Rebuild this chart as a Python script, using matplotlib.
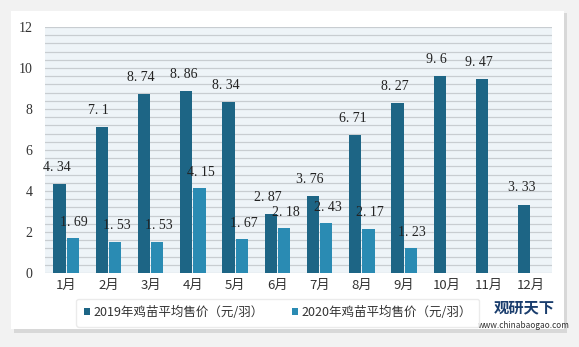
import numpy as np
import matplotlib.pyplot as plt
from matplotlib.patches import Rectangle

plt.rcParams['font.family'] = ['Noto Sans CJK SC', 'DejaVu Sans']

months = ['1月', '2月', '3月', '4月', '5月', '6月', '7月', '8月', '9月', '10月', '11月', '12月']
price_2019 = [4.34, 7.1, 8.74, 8.86, 8.34, 2.87, 3.76, 6.71, 8.27, 9.6, 9.47, 3.33]
price_2020 = [1.69, 1.53, 1.53, 4.15, 1.67, 2.18, 2.43, 2.17, 1.23, None, None, None]
label_2019 = '2019年鸡苗平均售价（元/羽）'
label_2020 = '2020年鸡苗平均售价（元/羽）'

c19 = '#1d6585'
c20 = '#2a8bb3'

fig = plt.figure(figsize=(5.79, 3.47), dpi=100)
fig.patch.set_facecolor('#f2f2f2')
# white card with shadow
fig.patches.append(Rectangle((14/579, 1-333/347), 553/579, 320/347, transform=fig.transFigure,
                             facecolor='#d8d8d8', edgecolor='none', zorder=-10))
fig.patches.append(Rectangle((11/579, 1-329/347), 553/579, 318/347, transform=fig.transFigure,
                             facecolor='white', edgecolor='none', zorder=-9))

ax = fig.add_axes([45/579, 1-273/347, 507/579, 246/347])
ax.set_facecolor('#eef4f8')
x = np.arange(len(months))
w = 0.29
for yv in np.arange(0, 12.01, 0.4):
    ax.axhline(yv, color='#c8cdd1', lw=0.9, zorder=1)

v19 = np.array(price_2019, dtype=float)
v20 = np.array([np.nan if v is None else v for v in price_2020])
ax.bar(x - w/2 - 0.01, v19, w, color=c19, zorder=3, label=label_2019)
ax.bar(x + w/2 + 0.01, np.nan_to_num(v20), w, color=c20, zorder=3, label=label_2020)

for i, v in enumerate(v19):
    ax.text(x[i] - w/2 - 0.08, v + 0.5, f'{v:g}'.replace('.', '. '), ha='center', va='bottom',
            fontsize=10, family='Liberation Serif', color='#222222', zorder=4)
for i, v in enumerate(v20):
    if not np.isnan(v):
        ax.text(x[i] + w/2 + 0.05, v + 0.45, f'{v:g}'.replace('.', '. '), ha='center', va='bottom',
                fontsize=10, family='Liberation Serif', color='#222222', zorder=4)

ax.set_xlim(-0.5, 11.5)
ax.set_ylim(0, 12)
ax.set_yticks(np.arange(0, 13, 2))
ax.set_yticklabels([str(v) for v in range(0, 13, 2)], family='Liberation Serif', fontsize=10, color='#333333')
ax.set_xticks(x)
ax.set_xticklabels(months, fontsize=9.5, color='#333333')
ax.tick_params(length=0, pad=4)
ax.tick_params(axis='y', pad=9)
for s in ax.spines.values():
    s.set_visible(False)

leg = fig.legend(loc='lower left', bbox_to_anchor=(70/579, 1-333/347), ncol=2, frameon=True,
                 fontsize=9, handlelength=0.5, handleheight=0.5, handletextpad=0.3,
                 columnspacing=2.2, borderpad=0.6)
leg.get_frame().set_facecolor('white')
leg.get_frame().set_edgecolor('#e6e6e6')
for t in leg.get_texts():
    t.set_color('#333333')

fig.text(0.905, 0.1, '观研天下', fontsize=11, weight='bold', color='#1a3d6d', ha='center')
fig.text(0.905, 0.055, 'www.chinabaogao.com', fontsize=6, color='#333333', ha='center')

fig.savefig('out.png', dpi=100)
